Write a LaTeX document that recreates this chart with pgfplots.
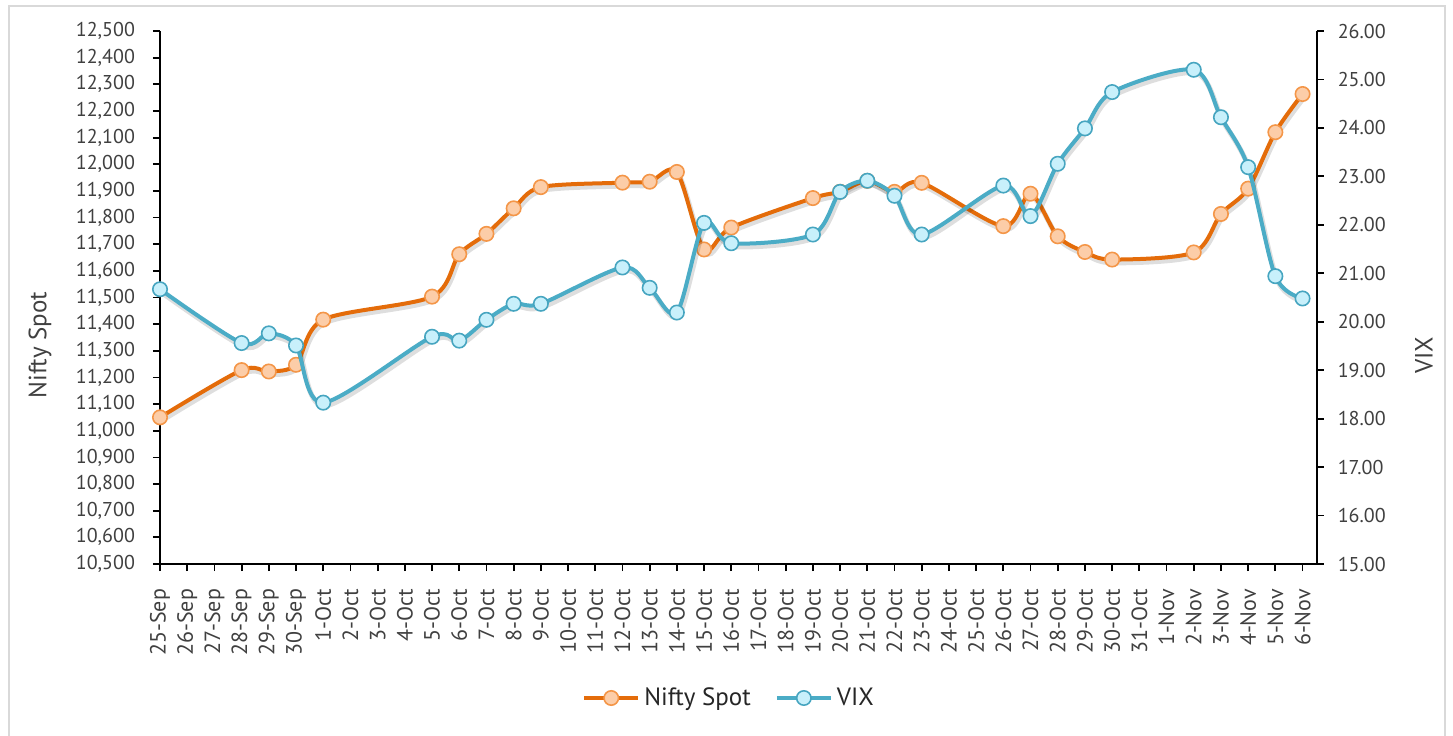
\documentclass[border=0pt]{standalone}
\usepackage{pgfplots}
\usepackage{pgfplotstable}
\pgfplotsset{compat=1.18}
\usepackage{fontspec}
\setmainfont{PT Sans}
\definecolor{nifty}{RGB}{228,108,10}
\definecolor{niftyfill}{RGB}{252,205,168}
\definecolor{niftyedge}{RGB}{244,150,72}
\definecolor{vix}{RGB}{75,172,198}
\definecolor{vixfill}{RGB}{200,240,251}
\definecolor{vixedge}{RGB}{70,165,192}
\definecolor{txt}{RGB}{64,64,64}
\definecolor{frame}{RGB}{217,217,217}

\pgfplotstableread{
x y
0 11050.25
3 11227.55
4 11222.40
5 11247.55
6 11416.95
10 11503.35
11 11662.40
12 11738.85
13 11834.60
14 11914.20
17 11930.95
18 11934.50
19 11971.05
20 11680.35
21 11762.45
24 11873.05
25 11896.80
26 11937.65
27 11896.45
28 11930.35
31 11767.75
32 11889.40
33 11729.60
34 11670.80
35 11642.40
38 11669.15
39 11813.50
40 11908.50
41 12120.30
42 12263.55
}\niftytable

\pgfplotstableread{
x y
0 20.67
3 19.56
4 19.76
5 19.51
6 18.33
10 19.69
11 19.61
12 20.04
13 20.37
14 20.37
17 21.12
18 20.70
19 20.19
20 22.04
21 21.62
24 21.80
25 22.68
26 22.91
27 22.60
28 21.80
31 22.81
32 22.18
33 23.26
34 23.99
35 24.74
38 25.20
39 24.22
40 23.19
41 20.94
42 20.48
}\vixtable

\pgfplotsset{
  common/.style={
    scale only axis, width=578.35pt, height=266.5pt,
    at={(80pt,85.5pt)}, anchor=south west,
    xmin=0, xmax=42.52,
    axis line style={black, line width=0.9pt, -},
    tick style={black, line width=0.9pt},
    tick align=outside, major tick length=3.5pt,
    scaled ticks=false,
    /pgf/number format/assume math mode=true,
    tick label style={font=\fontsize{10}{12}\selectfont, text=txt},
  },
  shadow/.style={draw=black, opacity=0.13, line width=2.6pt, xshift=0.8pt, yshift=-1.6pt, smooth, tension=0.5, mark=none, forget plot},
}

\begin{document}
\begin{tikzpicture}
\path[use as bounding box] (0,0) rectangle (726.5pt,367.5pt);
\draw[frame, line width=1pt] (4.5pt,-5pt) rectangle (722.5pt,364.5pt);

\begin{axis}[common,
  ymin=10500, ymax=12500, ytick={10500,10600,...,12500},
  axis x line*=bottom, axis y line*=left,
  xtick={0,...,42},
  xticklabels={25-Sep,26-Sep,27-Sep,28-Sep,29-Sep,30-Sep,1-Oct,2-Oct,3-Oct,4-Oct,5-Oct,6-Oct,7-Oct,8-Oct,9-Oct,10-Oct,11-Oct,12-Oct,13-Oct,14-Oct,15-Oct,16-Oct,17-Oct,18-Oct,19-Oct,20-Oct,21-Oct,22-Oct,23-Oct,24-Oct,25-Oct,26-Oct,27-Oct,28-Oct,29-Oct,30-Oct,31-Oct,1-Nov,2-Nov,3-Nov,4-Nov,5-Nov,6-Nov},
  x tick label style={rotate=90, anchor=east, font=\fontsize{11}{12}\selectfont},
  xticklabel shift=5.5pt,
  yticklabel shift=5.5pt,
  /pgf/number format/fixed, /pgf/number format/precision=0, /pgf/number format/1000 sep={,},
  ylabel={Nifty Spot},
  every axis y label/.style={at={(axis description cs:-0.1037,0.411)}, rotate=90, anchor=center, font=\fontsize{12.5}{14}\selectfont, text=txt},
]
\addplot[shadow] table[x=x,y=y] {\niftytable};
\addplot[nifty, line width=2pt, smooth, tension=0.5, mark=*, mark size=3.6pt,
  mark options={fill=niftyfill, draw=niftyedge, line width=0.8pt}] table[x=x,y=y] {\niftytable};
\end{axis}

\begin{axis}[common,
  ymin=15, ymax=26, ytick={15,16,...,26},
  axis x line=none, axis y line*=right,
  yticklabel shift=3.5pt,
  /pgf/number format/fixed, /pgf/number format/fixed zerofill, /pgf/number format/precision=2,
  ylabel={VIX},
  every axis y label/.style={at={(axis description cs:1.0928,0.392)}, rotate=90, anchor=center, font=\fontsize{12.5}{14}\selectfont, text=txt},
  legend columns=2,
  legend style={at={(axis description cs:0.4928,-0.2514)}, anchor=center, draw=none, fill=none,
    font=\fontsize{12.5}{14}\selectfont, text=black!85,
    /tikz/every even column/.append style={column sep=10pt}},
  legend image code/.code={\draw[mark repeat=2, mark phase=2] plot coordinates {(0pt,0pt) (13.5pt,0pt) (27pt,0pt)};},
]
\addlegendimage{nifty, line width=2pt, mark=*, mark size=3.6pt, mark options={fill=niftyfill, draw=niftyedge, line width=0.8pt}}
\addlegendentry{Nifty Spot}
\addplot[shadow] table[x=x,y=y] {\vixtable};
\addplot[vix, line width=2pt, smooth, tension=0.5, mark=*, mark size=3.6pt,
  mark options={fill=vixfill, draw=vixedge, line width=0.8pt}] table[x=x,y=y] {\vixtable};
\addlegendentry{VIX}
\end{axis}
\end{tikzpicture}
\end{document}
